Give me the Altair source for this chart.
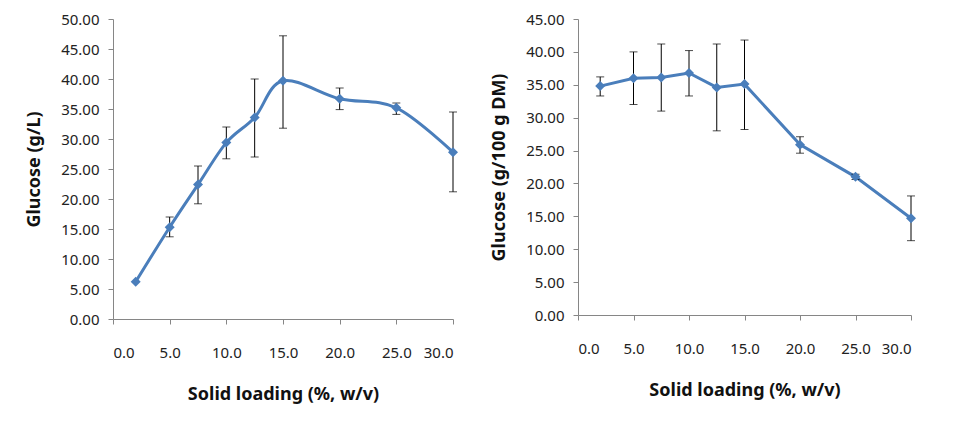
import altair as alt
import pandas as pd

# Left panel: glucose concentration (g/L)
loading = [2.0, 5.0, 7.5, 10.0, 12.5, 15.0, 20.0, 25.0, 30.0]
glucose_gl = [6.2, 15.3, 22.4, 29.4, 33.6, 39.7, 36.7, 35.2, 27.8]
glucose_gl_lo = [6.2, 13.7, 19.2, 26.7, 27.0, 31.8, 34.9, 34.1, 21.2]
glucose_gl_hi = [6.2, 17.0, 25.5, 32.0, 40.0, 47.2, 38.5, 36.0, 34.5]

# Right panel: glucose yield (g/100 g DM)
glucose_dm = [34.8, 36.0, 36.1, 36.8, 34.6, 35.1, 25.9, 21.0, 14.7]
glucose_dm_lo = [33.3, 32.0, 31.0, 33.3, 28.0, 28.2, 24.6, 20.6, 11.3]
glucose_dm_hi = [36.2, 40.0, 41.2, 40.2, 41.2, 41.8, 27.1, 21.4, 18.1]

x_ticks = [0, 5, 10, 15, 20, 25, 30]

left_df = pd.DataFrame({"x": loading, "y": glucose_gl, "lo": glucose_gl_lo, "hi": glucose_gl_hi})
right_df = pd.DataFrame({"x": loading, "y": glucose_dm, "lo": glucose_dm_lo, "hi": glucose_dm_hi})
left_err = left_df[left_df["hi"] > left_df["lo"]]

BLUE = "#4A7EBB"
FONT = "Noto Sans"


def panel(df, err_df, ymax, ytitle, interp, w, h):
    xs = alt.Scale(domain=[0, 30], nice=False)
    ys = alt.Scale(domain=[0, ymax], nice=False)
    yvals = list(range(0, int(ymax) + 1, 5))
    xax = alt.Axis(values=x_ticks, tickCount=len(x_ticks), format=".1f",
                   title="Solid loading (%, w/v)",
                   labelPadding=21, titlePadding=25, labelOverlap=False)
    yax = alt.Axis(values=yvals, tickCount=len(yvals),
                   format=".2f", title=ytitle, labelPadding=9, titlePadding=17,
                   labelOverlap=False)
    base = alt.Chart(df)
    line = base.mark_line(color=BLUE, strokeWidth=3, interpolate=interp).encode(
        x=alt.X("x:Q", scale=xs, axis=xax),
        y=alt.Y("y:Q", scale=ys, axis=yax),
    )
    ebase = alt.Chart(err_df)
    rule = ebase.mark_rule(color="black", strokeWidth=1).encode(
        x="x:Q", y="lo:Q", y2="hi:Q")
    cap_lo = ebase.mark_tick(color="black", orient="horizontal", size=8, thickness=1).encode(
        x="x:Q", y="lo:Q")
    cap_hi = ebase.mark_tick(color="black", orient="horizontal", size=8, thickness=1).encode(
        x="x:Q", y="hi:Q")
    pts = base.mark_point(shape="diamond", filled=True, color=BLUE, size=100, opacity=1).encode(
        x="x:Q", y="y:Q")
    return alt.layer(line, rule, cap_lo, cap_hi, pts).properties(width=w, height=h)


left = panel(left_df, left_err, 50, "Glucose (g/L)", "cardinal", 340, 300)
right = panel(right_df, right_df, 45, "Glucose (g/100 g DM)", "linear", 333, 296)

chart = alt.hconcat(left, right, spacing=31).properties(
    padding={"left": 25, "top": 12, "right": 5, "bottom": 5},
    background="white",
).configure_view(stroke=None).configure_axis(
    grid=False,
    domainColor="#868686",
    tickColor="#868686",
    tickSize=5,
    labelFont=FONT,
    labelFontSize=15,
    labelColor="#222222",
    titleFont=FONT,
    titleFontSize=18,
    titleFontWeight="bold",
    titleColor="#111111",
)

chart.save("out.html", embed_options={"renderer": "svg", "actions": False})
